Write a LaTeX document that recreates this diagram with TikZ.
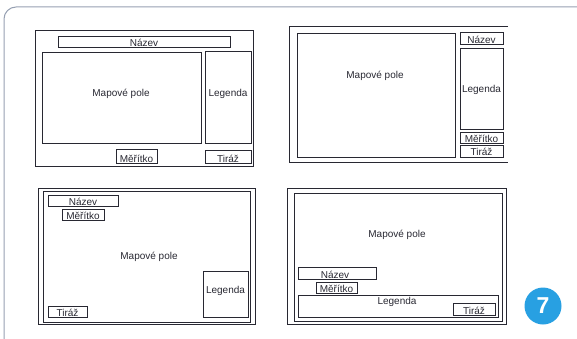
\documentclass[tikz,border=0pt]{standalone}
\usepackage{fontspec}
\setmainfont{Liberation Sans}
\definecolor{ink}{RGB}{40,40,50}
\definecolor{edge}{RGB}{150,160,178}
\definecolor{badge}{RGB}{40,160,226}
\begin{document}
\begin{tikzpicture}[x=1pt, y=-1pt,
	B/.style={draw=ink, line width=0.9pt},
	T/.style={font=\fontsize{10}{11}\selectfont, text=ink, inner sep=0pt},
	Tb/.style={T, anchor=base}]
		\useasboundingbox (0,0) rectangle (577,339);
		
		% page frame
		\draw[edge, line width=1pt, rounded corners=12pt] (4,339) -- (4,7) -- (577,7);
		
		% layout 1
		\draw[B] (35,30) rectangle (253,166);
		\draw[B] (58,36) rectangle (230,47);
		\draw[B] (42,52) rectangle (201,143);
		\draw[B] (205,51) rectangle (251,143);
		\draw[B] (116,149) rectangle (157,163);
		\draw[B] (205,150) rectangle (251,163);
		\node[Tb] (nazevA) at (144,46.5) {Název};
		\node[T] (poleA) at (121,94) {Mapové pole};
		\node[T] (legendaA) at (228,94) {Legenda};
		\node[Tb] (meritkoA) at (136.5,162) {Měřítko};
		\node[Tb] (tirazA) at (228,162) {Tiráž};
		
		% layout 2
		\draw[B] (508,26) -- (289,26) -- (289,162) -- (508,162);
		\draw[B] (297,33) rectangle (455,157);
		\draw[B] (460,32) rectangle (503,44);
		\draw[B] (460,48) rectangle (503,129);
		\draw[B] (460,132) rectangle (503,143);
		\draw[B] (460,145) rectangle (503,157);
		\node[T] (poleB) at (375,76) {Mapové pole};
		\node[Tb] (nazevB) at (481.5,43.5) {Název};
		\node[T] (legendaB) at (481.5,90) {Legenda};
		\node[Tb] (meritkoB) at (481.5,142.5) {Měřítko};
		\node[Tb] (tirazB) at (481.5,156) {Tiráž};
		
		% layout 3
		\draw[B] (38,188) rectangle (255,324);
		\draw[B] (43,191) rectangle (250,322);
		\draw[B] (48,195) rectangle (118,206);
		\draw[B] (62,209) rectangle (104,220);
		\draw[B] (203,271) rectangle (248,317);
		\draw[B] (48,306) rectangle (87,317);
		\node[Tb] (nazevC) at (83,205) {Název};
		\node[Tb] (meritkoC) at (83,219) {Měřítko};
		\node[T] (poleC) at (149,257) {Mapové pole};
		\node[T] (legendaC) at (225.5,291) {Legenda};
		\node[Tb] (tirazC) at (67.5,316.5) {Tiráž};
		
		% layout 4
		\draw[B] (287,188) rectangle (506,324);
		\draw[B] (294,193) rectangle (502,321);
		\draw[B] (298,267) rectangle (376,279);
		\draw[B] (316,282) rectangle (357,293);
		\draw[B] (298,295) rectangle (498,317);
		\draw[B] (453,303) rectangle (495,315);
		\node[T] (poleD) at (397,235) {Mapové pole};
		\node[Tb] (nazevD) at (335,278.5) {Název};
		\node[Tb] (meritkoD) at (336.5,292.5) {Měřítko};
		\node[T] (legendaD) at (397,302) {Legenda};
		\node[Tb] (tirazD) at (474,314) {Tiráž};
		
		% figure number
		\node[circle, fill=badge, minimum size=37pt, inner sep=0pt, text=white,
		      font=\fontsize{23}{23}\bfseries\selectfont] (cislo) at (543,306) {7};
\end{tikzpicture}
\end{document}
